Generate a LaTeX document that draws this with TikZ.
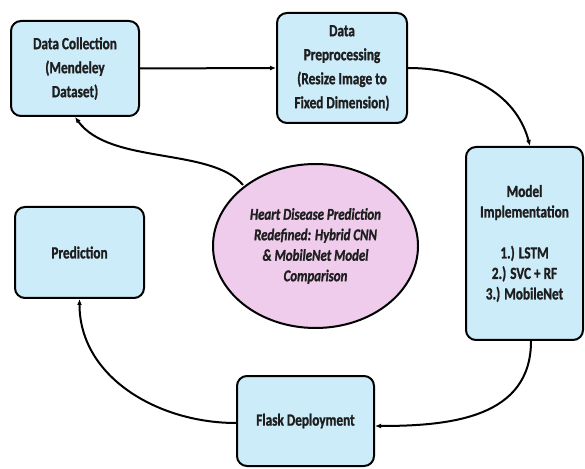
\documentclass[tikz,border=0pt]{standalone}
\usepackage{fontspec}
\setmainfont{Carlito}[FakeStretch=0.78, BoldFeatures={FakeBold=1.2}, BoldItalicFeatures={FakeBold=1.2}]
\usetikzlibrary{arrows.meta,shapes.geometric}
\definecolor{boxblue}{RGB}{205,236,250}
\definecolor{ellpink}{RGB}{239,204,236}
\definecolor{txt}{RGB}{30,30,30}
\tikzset{
  stagebox/.style={draw=black, line width=2pt, rounded corners=10pt, fill=boxblue,
    align=center, inner sep=0pt, text=txt, font=\bfseries\fontsize{17}{24}\selectfont},
  centre/.style={ellipse, draw=black, line width=2pt, fill=ellpink, align=center,
    inner sep=0pt, text=txt, font=\bfseries\itshape\fontsize{16.5}{20.5}\selectfont},
  flow/.style={line width=2pt, -{Latex[length=6pt,width=5pt]}}
}
\begin{document}
\begin{tikzpicture}[x=1pt,y=1pt]
\useasboundingbox (0,0) rectangle (585,468);
\node[stagebox, minimum width=128pt, minimum height=95pt] (collect) at (75,399.5)
  {Data Collection\\(Mendeley\\Dataset)};
\node[stagebox, minimum width=130pt, minimum height=110pt] (prep) at (342,400)
  {Data\\Preprocessing\\(Resize Image to\\Fixed Dimension)};
\node[stagebox, minimum width=117pt, minimum height=193pt,
      font=\bfseries\fontsize{17}{20.5}\selectfont] (model) at (524.5,224.5)
  {Model\\Implementation\\[20.5pt]1.) LSTM\\2.) SVC + RF\\3.) MobileNet};
\node[stagebox, minimum width=129pt, minimum height=91pt] (pred) at (79.5,215.5)
  {Prediction};
\node[stagebox, minimum width=137pt, minimum height=90pt] (flask) at (305.5,47)
  {Flask Deployment};
\node[centre, minimum width=205pt, minimum height=164pt] (hub) at (315.5,222)
  {Heart Disease Prediction\\Redefined: Hybrid CNN\\\& MobileNet Model\\Comparison};
\draw[flow] (collect.east) -- (prep.west);
\draw[flow] (prep.east) to[out=0,in=105] ([xshift=5.5pt]model.north);
\draw[flow] ([xshift=6.5pt]model.south) to[out=-90,in=0,looseness=1.1] ([yshift=-5pt]flask.east);
\draw[flow] ([yshift=-2pt]flask.west) to[out=180,in=-90] (pred.south);
\coordinate (hubexit) at (243,283);
\draw[flow] (hubexit) .. controls (211,321) and (110,303) .. (collect.south);
\end{tikzpicture}
\end{document}
